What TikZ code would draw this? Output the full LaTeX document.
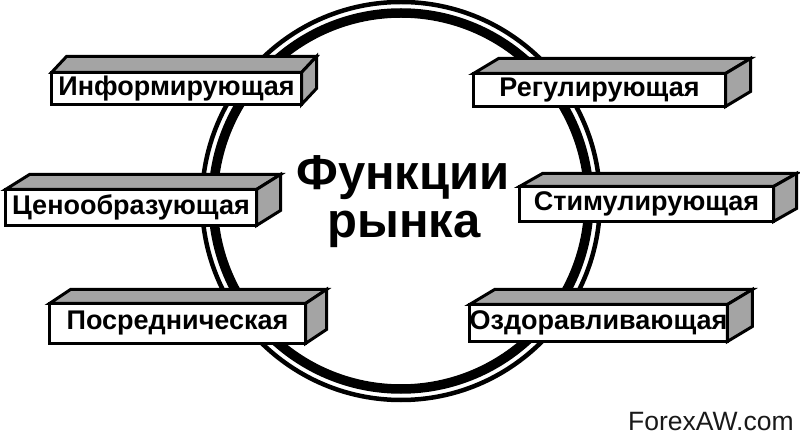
\documentclass[tikz,border=0pt]{standalone}
\usepackage{fontspec}
\setmainfont{Liberation Sans}
\usetikzlibrary{calc}
\definecolor{sidegrey}{HTML}{A4A4A4}
\tikzset{
  front/.style={draw=black, fill=white, line width=3pt, inner sep=0pt, outer sep=0pt,
    font=\fontsize{27}{30}\selectfont\bfseries, text=black},
  side/.style={draw=black, fill=sidegrey, line width=3pt, line join=miter},
  ring/.style={draw=black},
}
% #1 name, #2 cx, #3 cy, #4 w, #5 h, #6 dx, #7 dy, #8 text
\newcommand{\prismbox}[8]{%
  \node[front, minimum width=#4pt, minimum height=#5pt] (#1) at (#2,#3) {#8};
  \draw[side] (#1.north west) -- ++(#6,#7) -- ($(#1.north east)+(#6,#7)$)
     -- (#1.north east) -- cycle;
  \draw[side] (#1.north east) -- ($(#1.north east)+(#6,#7)$)
     -- ($(#1.south east)+(#6,#7)$) -- (#1.south east) -- cycle;
}
\begin{document}
\begin{tikzpicture}[x=1pt,y=-1pt]
\useasboundingbox (0,0) rectangle (800,443);
\fill[white] (0,0) rectangle (800,443);
% ring
\draw[ring, line width=4.5pt] (401,201) circle[radius=199];
\draw[ring, line width=9.5pt] (401,201) circle[radius=188];
% boxes
\prismbox{b1}{176.5}{88.5}{250}{32}{15}{-16}{Информирующая}
\prismbox{b2}{599.5}{90}{252}{33}{25}{-15}{Регулирующая}
\prismbox{b3}{131}{207.5}{251}{36}{24}{-15}{Ценообразующая}
\prismbox{b4}{646.5}{204}{254}{35}{23}{-13}{Стимулирующая}
\prismbox{b5}{177.5}{323.5}{256}{40}{21}{-14}{Посредническая}
\prismbox{b6}{598.5}{323}{254}{37}{25}{-15}{Оздоравливающая}
% centre title
\node[anchor=base, inner sep=0pt, font=\fontsize{49}{47}\selectfont\bfseries] (t1) at (403,190) {Функции};
\node[anchor=base, inner sep=0pt, font=\fontsize{49}{47}\selectfont\bfseries] (t2) at (404,238) {рынка};
% watermark
\node[anchor=base west, inner sep=0pt, font=\fontsize{26.5}{30}\selectfont, text=black!90] (wm) at (628,430) {ForexAW.com};
\end{tikzpicture}
\end{document}
